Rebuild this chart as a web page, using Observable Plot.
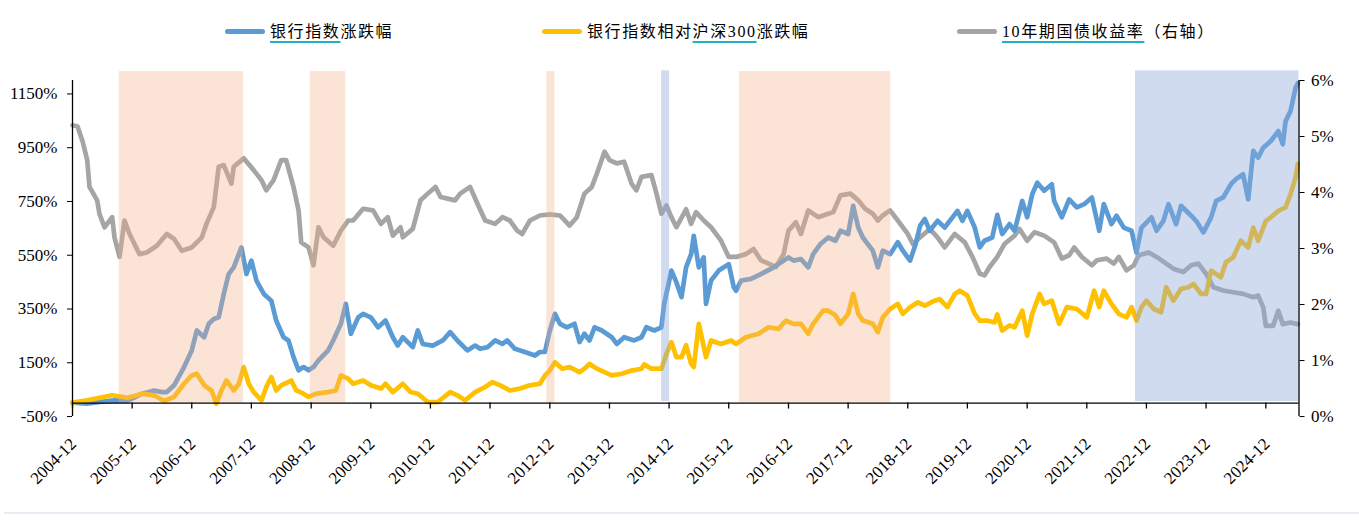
<!DOCTYPE html>
<html>
<head>
<meta charset="utf-8">
<script src="https://cdn.jsdelivr.net/npm/d3@7"></script>
<script src="https://cdn.jsdelivr.net/npm/@observablehq/plot@0.6"></script>
<style>
  html, body { margin: 0; padding: 0; background: #fff; }
  body { width: 1359px; height: 520px; overflow: hidden; position: relative;
         font-family: "Liberation Serif", "Noto Sans CJK SC", serif; color: #000; }
  #legend { position: relative; height: 55px; }
  .item { position: absolute; top: 21px; height: 21px; line-height: 21px; display: flex; align-items: center;
          font-size: 16px; letter-spacing: 1.6px; white-space: nowrap; }
  .sw { display: inline-block; width: 40px; height: 5px; border-radius: 3px; margin-right: 5px; }
  .u { text-decoration: underline; text-decoration-color: #1fb3c9; text-decoration-thickness: 2px; text-underline-offset: 4px; }
  #chart svg { display: block; overflow: visible; }
  #rule { position: absolute; left: 4px; right: 0; top: 512px; height: 2px; background: #e7edf5; }
</style>
</head>
<body>
<div id="legend"></div>
<div id="chart"></div>
<div id="rule"></div>
<script>
// ---- Data ----
// 银行指数涨跌幅 (%), left axis
const bankPts = [
["2004-12",2],["2005-03",-2],["2005-05-15",4],["2005-08-15",10],["2005-11",8],["2006-02",35],["2006-04-15",47],
["2006-06",41],["2006-07",41],["2006-08-15",66],["2006-10-15",134],["2006-12",196],["2007-01",270],["2007-02-15",245],
["2007-03-15",295],["2007-04-15",313],["2007-05-15",319],["2007-06-15",406],["2007-07-15",480],["2007-08-15",505],
["2007-09-15",554],["2007-10",579],["2007-11",480],["2007-12",530],["2008-01",456],["2008-02-15",406],["2008-04",381],
["2008-05",307],["2008-06-15",245],["2008-07-15",233],["2008-08-15",171],["2008-09-15",122],["2008-10-15",134],
["2008-11-15",122],["2008-12-15",134],["2009-01-15",159],["2009-03-15",196],["2009-04-15",233],["2009-06",295],
["2009-07",369],["2009-08",258],["2009-09-15",319],["2009-10-15",332],["2009-12",319],["2010-01-15",282],["2010-03",307],
["2010-04-15",245],["2010-05-15",214],["2010-06-15",245],["2010-08-15",208],["2010-09-15",270],["2010-10-15",220],
["2010-12-15",214],["2011-02-15",233],["2011-04",264],["2011-05-15",233],["2011-07-15",196],["2011-09",214],["2011-10",202],
["2011-11-15",208],["2012-01",233],["2012-02-15",220],["2012-03-15",233],["2012-05",202],["2012-07",190],["2012-09",177],
["2012-10",190],["2012-11",190],["2012-12",270],["2013-01",332],["2013-02",295],["2013-03-15",282],["2013-05",295],
["2013-06",227],["2013-07",258],["2013-08",233],["2013-09",282],["2013-10-15",270],["2013-12-15",245],["2014-01-15",220],
["2014-03",245],["2014-05",233],["2014-06-15",245],["2014-07-15",282],["2014-09",270],["2014-10-15",282],["2014-11",369],
["2014-12-15",493],["2015-01-15",449],["2015-02-15",394],["2015-03-15",505],["2015-04-15",554],["2015-05",622],["2015-06",505],
["2015-07",542],["2015-07-15",369],["2015-08-15",456],["2015-10",493],["2015-11",505],["2015-12",517],["2016-01",431],
["2016-01-15",418],["2016-02-15",456],["2016-04-15",462],["2016-06-15",480],["2016-08-15",499],["2016-10",517],["2016-12",542],
["2017-01",530],["2017-02-15",536],["2017-04",505],["2017-05",554],["2017-06-15",592],["2017-08",616],["2017-09-15",604],
["2017-10-15",641],["2017-12",629],["2018-01",734],["2018-02",653],["2018-03",616],["2018-05",567],["2018-06",505],
["2018-07",567],["2018-08-15",554],["2018-10",598],["2018-11",567],["2018-12-15",530],["2019-01-15",585],["2019-02-15",660],
["2019-03-15",685],["2019-04-15",641],["2019-06",678],["2019-07-15",653],["2019-09",691],["2019-10",715],["2019-11",678],
["2019-12",715],["2020-01-15",653],["2020-02-15",579],["2020-03-15",604],["2020-05",616],["2020-06",700],["2020-07",629],
["2020-08-15",666],["2020-09-15",641],["2020-11",752],["2020-12",691],["2021-01",777],["2021-02",820],["2021-03-15",790],
["2021-05",814],["2021-05-15",752],["2021-07",691],["2021-08-15",758],["2021-10",728],["2021-11-15",740],["2022-01",765],
["2022-02-15",641],["2022-03-15",740],["2022-05",666],["2022-06",697],["2022-07-15",653],["2022-09",641],["2022-10",560],
["2022-11",653],["2023-01",691],["2023-02",641],["2023-03-15",678],["2023-04-15",740],["2023-06",666],["2023-07",734],
["2023-09",697],["2023-10",678],["2023-11-15",635],["2024-01",691],["2024-02",752],["2024-03-15",765],["2024-05",814],
["2024-06",833],["2024-07-15",851],["2024-08-15",758],["2024-09-15",938],["2024-10-15",913],["2024-11-15",950],["2025-01",975],
["2025-02-15",1012],["2025-03-15",963],["2025-04",1049],["2025-05",1086],["2025-06",1173],["2025-06-15",1190]
];
// 银行指数相对沪深300涨跌幅 (%), left axis
const relPts = [
["2004-12",2],["2005-03",10],["2005-05-15",20],["2005-08",29],["2005-11",20],["2006-02",35],["2006-04-15",29],
["2006-06-15",8],["2006-08-15",23],["2006-10-15",72],["2006-12",103],["2007-01",109],["2007-02-15",66],["2007-04",47],
["2007-05",-2],["2007-06",47],["2007-07",84],["2007-08-15",47],["2007-09-15",72],["2007-10-15",134],["2007-11-15",72],
["2007-12-15",41],["2008-02",10],["2008-03",60],["2008-04",97],["2008-05",47],["2008-06",66],["2008-08",84],["2008-09",47],
["2008-10-15",35],["2008-11-15",23],["2009-01",35],["2009-03-15",41],["2009-05",47],["2009-06",103],["2009-07-15",91],
["2009-08-15",72],["2009-10-15",84],["2009-12",66],["2010-02",54],["2010-03",72],["2010-04-15",41],["2010-06-15",72],
["2010-08",41],["2010-09-15",35],["2010-11-15",4],["2011-01-15",4],["2011-04",41],["2011-05-15",29],["2011-07",10],
["2011-09",41],["2011-11",60],["2011-12-15",78],["2012-02",66],["2012-04",47],["2012-06",54],["2012-08",66],["2012-10",72],
["2012-11",103],["2012-12",121],["2013-01",152],["2013-02-15",128],["2013-04",134],["2013-06",115],["2013-07",128],
["2013-08",146],["2013-09-15",128],["2013-12-15",103],["2014-02-15",109],["2014-04-15",121],["2014-06-15",128],["2014-07",144],
["2014-08-15",128],["2014-10-15",128],["2014-11-15",183],["2014-12-15",227],["2015-01-15",171],["2015-02-15",171],
["2015-03-15",215],["2015-04-15",146],["2015-05",134],["2015-06",295],["2015-07-15",171],["2015-08-15",233],["2015-10-15",220],
["2015-12-15",233],["2016-01-15",220],["2016-03-15",245],["2016-06",258],["2016-08",282],["2016-10",276],["2016-11-15",307],
["2017-01",295],["2017-02-15",295],["2017-04",258],["2017-05",295],["2017-07",344],["2017-08",344],["2017-09-15",326],
["2017-10-15",295],["2017-12",332],["2018-01",406],["2018-02",332],["2018-03",307],["2018-05",295],["2018-06",264],
["2018-07",319],["2018-08-15",350],["2018-10",369],["2018-11",332],["2018-12-15",357],["2019-02",375],["2019-03-15",363],
["2019-05-15",381],["2019-06-15",387],["2019-08",357],["2019-09-15",406],["2019-10-15",418],["2019-12",400],["2020-01-15",332],
["2020-02-15",307],["2020-04",307],["2020-05-15",300],["2020-06",330],["2020-07",270],["2020-08-15",289],["2020-09-15",282],
["2020-11",344],["2020-12",251],["2021-01",332],["2021-02-15",406],["2021-03-15",369],["2021-05",381],["2021-06-15",295],
["2021-08",357],["2021-10",350],["2021-12",319],["2022-01-15",418],["2022-02-15",357],["2022-03-15",418],["2022-05",369],
["2022-06-15",332],["2022-08",319],["2022-09",357],["2022-10",307],["2022-11",357],["2022-12",381],["2023-01-15",350],
["2023-03",338],["2023-04",431],["2023-05-15",381],["2023-07",425],["2023-08-15",431],["2023-09-15",443],["2023-11",406],
["2023-12",406],["2024-01",493],["2024-03",468],["2024-04",524],["2024-05-15",542],["2024-07",604],["2024-08-15",579],
["2024-09-15",653],["2024-10-15",604],["2024-12",678],["2025-01",691],["2025-02-15",715],["2025-04",728],["2025-05",777],
["2025-06",839],["2025-06-15",890]
];
// 10年期国债收益率 (%), right axis
const yieldPts = [
["2004-12",5.2],["2005-01",5.18],["2005-02",4.91],["2005-03",4.58],["2005-03-15",4.10],["2005-05",3.86],["2005-05-15",3.62],
["2005-06-15",3.38],["2005-08",3.56],["2005-08-15",3.20],["2005-09-15",2.85],["2005-10-15",3.50],["2005-11-15",3.26],
["2006-01-15",2.90],["2006-03",2.93],["2006-05",3.05],["2006-07",3.26],["2006-08-15",3.17],["2006-10",2.96],["2006-12",3.02],
["2007-02",3.20],["2007-03",3.44],["2007-04-15",3.74],["2007-05-15",4.46],["2007-06-15",4.49],["2007-08",4.16],["2007-08-15",4.46],
["2007-10-15",4.61],["2007-12-15",4.40],["2008-02",4.22],["2008-03",4.04],["2008-04-15",4.22],["2008-06",4.58],["2008-07",4.58],
["2008-08-15",4.10],["2008-09-15",3.68],["2008-10",3.11],["2008-11-15",3.02],["2008-12-15",2.70],["2009-01-15",3.38],
["2009-02-15",3.20],["2009-04-15",3.05],["2009-06",3.32],["2009-07-15",3.50],["2009-08-15",3.50],["2009-10-15",3.71],
["2009-12-15",3.68],["2010-02",3.44],["2010-03-15",3.56],["2010-04-15",3.23],["2010-06",3.38],["2010-06-15",3.20],
["2010-08-15",3.35],["2010-10",3.86],["2010-11-15",3.98],["2011-01",4.10],["2011-02",3.92],["2011-05",3.86],["2011-06",3.98],
["2011-08",4.10],["2011-09-15",3.80],["2011-11",3.50],["2012-01",3.44],["2012-02-15",3.56],["2012-04",3.50],["2012-05-15",3.32],
["2012-06-15",3.26],["2012-08",3.50],["2012-10",3.59],["2012-12",3.61],["2013-02",3.59],["2013-04",3.41],["2013-05-15",3.56],
["2013-07",3.98],["2013-08-15",4.10],["2013-09-15",4.34],["2013-11",4.73],["2013-12",4.58],["2014-01-15",4.52],["2014-03",4.55],
["2014-04-15",4.16],["2014-05-15",4.04],["2014-06-15",4.28],["2014-08-15",4.31],["2014-09-15",3.98],["2014-10-15",3.62],
["2014-11-15",3.77],["2014-12-15",3.56],["2015-01-15",3.38],["2015-03-15",3.70],["2015-04-15",3.44],["2015-05-15",3.65],
["2015-07",3.50],["2015-08-15",3.38],["2015-10-15",3.14],["2015-12",2.85],["2016-01-15",2.85],["2016-03-15",2.90],["2016-05",2.99],
["2016-06-15",2.79],["2016-08",2.73],["2016-09-15",2.67],["2016-11",2.90],["2016-12",3.32],["2017-01-15",3.47],["2017-02-15",3.26],
["2017-04",3.68],["2017-06",3.56],["2017-08",3.62],["2017-09",3.65],["2017-10-15",3.95],["2017-12-15",3.98],["2018-02",3.86],
["2018-03-15",3.71],["2018-05",3.62],["2018-06",3.50],["2018-07",3.59],["2018-08-15",3.68],["2018-10",3.50],["2018-12",3.26],
["2019-01",3.08],["2019-02-15",3.20],["2019-04-15",3.35],["2019-06",3.20],["2019-07-15",3.02],["2019-09-15",3.26],
["2019-11-15",3.11],["2020-01",2.85],["2020-02-15",2.55],["2020-03-15",2.52],["2020-04-15",2.67],["2020-06",2.85],
["2020-07-15",3.08],["2020-09-15",3.23],["2020-10-15",3.35],["2020-12",3.14],["2021-01-15",3.29],["2021-03-15",3.23],
["2021-05-15",3.11],["2021-07",2.82],["2021-08-15",2.88],["2021-09-15",3.02],["2021-11",2.85],["2022-01",2.70],["2022-02",2.79],
["2022-04",2.82],["2022-05-15",2.73],["2022-06-15",2.85],["2022-08",2.61],["2022-09-15",2.70],["2022-10-15",2.88],
["2022-12-15",2.93],["2023-02",2.85],["2023-04",2.73],["2023-05-15",2.64],["2023-07-15",2.58],["2023-09",2.70],["2023-10-15",2.73],
["2023-12",2.55],["2024-01-15",2.31],["2024-03-15",2.25],["2024-05-15",2.22],["2024-07-15",2.19],["2024-09-15",2.13],
["2024-10-15",2.16],["2024-11-15",1.95],["2024-12",1.62],["2025-01-15",1.62],["2025-02-15",1.89],["2025-03-15",1.65],
["2025-05",1.68],["2025-06-15",1.65]
];
// Shaded periods
const shadeFrom = ["2005-09-13","2008-11-25","2012-11-13","2014-10-16","2016-02-04","2022-09-25"];
const shadeTo   = ["2007-10-13","2009-07-01","2013-01-01","2014-12-04","2018-08-19","2025-06-22"];
const shadeKind = ["peach","peach","peach","blue","peach","blue"];

const seriesNames  = ["银行指数涨跌幅", "银行指数相对沪深300涨跌幅", "10年期国债收益率（右轴）"];
const seriesColors = ["#5B9BD5", "#FFC000", "#A5A5A5"];
const xTickLabels = ["2004-12","2005-12","2006-12","2007-12","2008-12","2009-12","2010-12","2011-12","2012-12","2013-12",
  "2014-12","2015-12","2016-12","2017-12","2018-12","2019-12","2020-12","2021-12","2022-12","2023-12","2024-12"];
const leftTicks  = [-50, 150, 350, 550, 750, 950, 1150];
const rightTicks = [0, 1, 2, 3, 4, 5, 6];

// ---- Legend ----
const legend = document.getElementById("legend");
const legendLeft = [225, 542, 957];
const legendHtml = [
  '<span class="u">银行指数</span>涨跌幅',
  '银行指数相对<span class="u">沪深300</span>涨跌幅',
  '<span class="u">10年期国债收益率</span>（右轴）'
];
seriesNames.forEach((n, i) => {
  const d = document.createElement("div");
  d.className = "item";
  d.style.left = legendLeft[i] + "px";
  d.innerHTML = `<span class="sw" style="background:${seriesColors[i]}"></span><span>${legendHtml[i]}</span>`;
  legend.appendChild(d);
});

// ---- Chart ----
const LMIN = -50, LMAX = 1200, RMAX = 6;
const toLeft = r => LMIN + r * (LMAX - LMIN) / RMAX;   // map right-axis value to left-axis units
const start = new Date("2004-12"), end = new Date("2025-06-22");
const X = d => new Date(d[0]);
const lineOpts = {strokeWidth: 4.7, strokeLinejoin: "round", strokeLinecap: "round"};
const idx = shadeKind.map((k, i) => i);
const peach = idx.filter(i => shadeKind[i] === "peach");
const blue  = idx.filter(i => shadeKind[i] === "blue");

const chart = Plot.plot({
  width: 1359, height: 465,
  marginLeft: 72, marginRight: 60.5, marginTop: 25, marginBottom: 117.4,
  style: {fontFamily: '"Liberation Serif", "Times New Roman", serif', fontSize: "17px", color: "#000", background: "transparent", overflow: "visible"},
  x: {type: "utc", domain: [start, end], axis: null},
  y: {domain: [0, LMAX], axis: null},
  marks: [
    Plot.lineY(yieldPts, {x: X, y: d => toLeft(d[1]), stroke: seriesColors[2], ...lineOpts}),
    Plot.lineY(bankPts, {x: X, y: d => d[1], stroke: seriesColors[0], ...lineOpts}),
    Plot.lineY(relPts, {x: X, y: d => d[1], stroke: seriesColors[1], ...lineOpts}),
    Plot.rect(peach, {x1: i => new Date(shadeFrom[i]), x2: i => new Date(shadeTo[i]), y1: 0, y2: 1233, fill: "#F4B183", fillOpacity: 0.34}),
    Plot.rect(blue, {x1: i => new Date(shadeFrom[i]), x2: i => new Date(shadeTo[i]), y1: 6, y2: 1236, fill: "#8FAADC", fillOpacity: 0.42}),
    // axis lines
    Plot.ruleY([0], {x1: () => start, x2: () => end, stroke: "#000", strokeWidth: 1.3}),
    Plot.ruleX([start], {y1: LMIN, y2: LMAX, stroke: "#000", strokeWidth: 1.3}),
    Plot.ruleX([end], {y1: LMIN, y2: LMAX, stroke: "#000", strokeWidth: 1.3}),
    // x ticks and labels
    Plot.ruleX(xTickLabels, {x: d => new Date(d), y1: 0, y2: -22, stroke: "#000", strokeWidth: 1.3}),
    Plot.text(xTickLabels, {x: d => new Date(d), y: 0, text: d => d, rotate: -45, textAnchor: "end", dx: 1, dy: 38, fontSize: 17, fill: "#000"}),
    // left axis
    Plot.axisY(leftTicks, {anchor: "left", tickSize: 5, tickPadding: 10, tickFormat: d => d + "%", fontSize: 17, label: null, stroke: "#000"}),
    // right axis
    Plot.axisY(rightTicks.map(toLeft), {anchor: "right", tickSize: 5, tickPadding: 7, tickFormat: v => Math.round((v - LMIN) * RMAX / (LMAX - LMIN)) + "%", fontSize: 17, label: null})
  ]
});
document.getElementById("chart").appendChild(chart);
</script>
</body>
</html>
